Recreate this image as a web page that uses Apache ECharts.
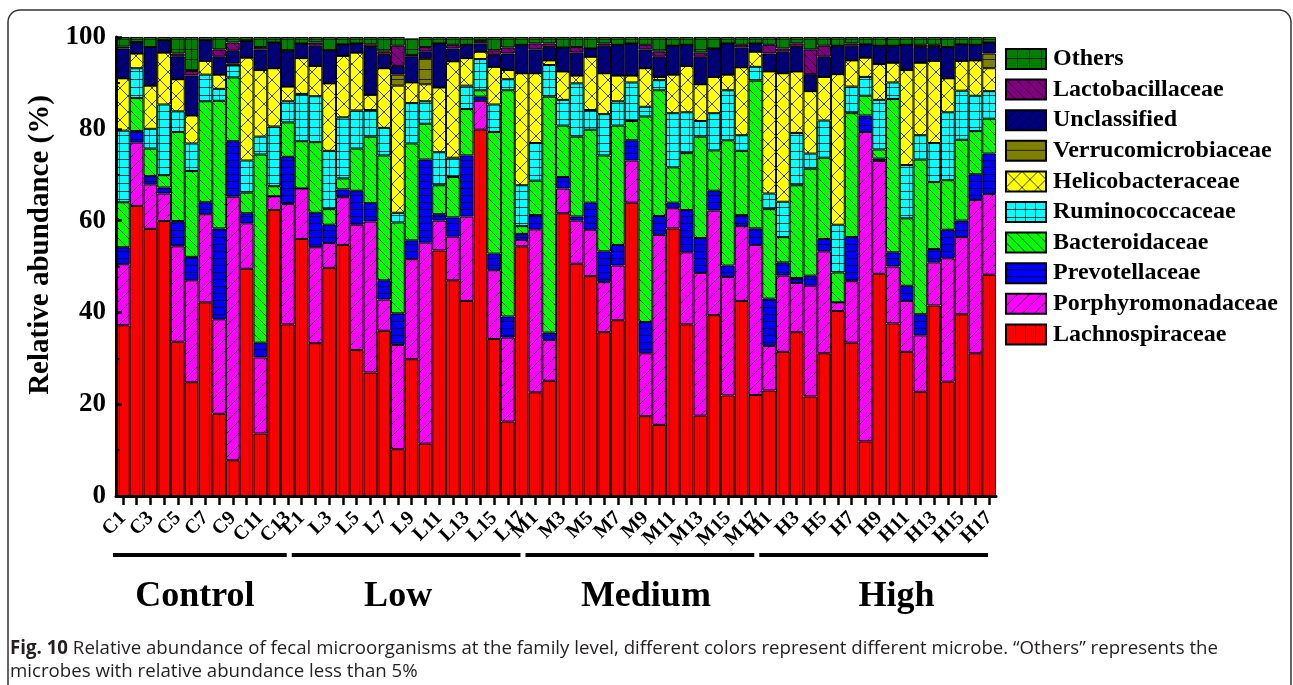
<!DOCTYPE html>
<html>
<head>
<meta charset="utf-8">
<script src="https://cdn.jsdelivr.net/npm/echarts@6/dist/echarts.min.js"></script>
<style>
  html, body { margin: 0; padding: 0; background: #fff; }
  #chart { width: 1293px; height: 685px; }
</style>
</head>
<body>
<div id="chart"></div>
<script>
// Samples: Control (C1-C13), Low (L1-L17), Medium (M1-M17), High (H1-H17)
const samples = [
  'C1','C2','C3','C4','C5','C6','C7','C8','C9','C10','C11','C12','C13',
  'L1','L2','L3','L4','L5','L6','L7','L8','L9','L10','L11','L12','L13','L14','L15','L16','L17',
  'M1','M2','M3','M4','M5','M6','M7','M8','M9','M10','M11','M12','M13','M14','M15','M16','M17',
  'H1','H2','H3','H4','H5','H6','H7','H8','H9','H10','H11','H12','H13','H14','H15','H16','H17'
];

const groupLabels = ['Control', 'Low', 'Medium', 'High'];
const groupFirst = ['C1', 'L1', 'M1', 'H1'];
const groupLast = ['C13', 'L17', 'M17', 'H17'];

// Relative abundance (%) per family, one value per sample
const lachnospiraceae = [
  37.2, 63.2, 58.2, 59.9, 33.6, 24.8, 42.2, 17.9, 7.8, 49.5, 13.6, 62.3, 37.4,
  56.0, 33.3, 49.7, 54.7, 31.8, 26.9, 36.0, 10.2, 29.8, 11.4, 53.5, 47.0, 42.5, 79.8, 34.2, 16.2, 54.4,
  22.6, 25.1, 61.6, 50.6, 47.9, 35.7, 38.3, 63.9, 17.4, 15.5, 58.3, 37.4, 17.5, 39.4, 21.9, 42.5, 22.0,
  23.0, 31.4, 35.7, 21.7, 31.1, 40.3, 33.4, 11.9, 48.4, 37.6, 31.4, 22.7, 41.5, 24.9, 39.6, 31.1, 48.2
];
const porphyromonadaceae = [
  13.3, 13.8, 9.7, 6.0, 20.8, 22.2, 19.2, 20.6, 57.4, 9.9, 16.6, 3.0, 26.2,
  11.0, 20.9, 5.4, 10.4, 27.3, 32.9, 6.8, 22.7, 21.8, 43.8, 6.5, 9.5, 18.4, 6.3, 15.0, 18.3, 1.4,
  35.5, 8.9, 5.4, 9.4, 10.1, 10.9, 11.9, 9.2, 13.7, 41.4, 4.4, 15.7, 31.1, 22.8, 25.8, 16.3, 32.7,
  9.7, 16.6, 10.7, 24.1, 22.2, 1.9, 13.4, 67.4, 24.6, 12.4, 11.1, 12.3, 9.4, 26.9, 16.8, 33.4, 17.6
];
const prevotellaceae = [
  3.7, 2.5, 1.8, 1.3, 5.5, 5.1, 2.6, 19.8, 12.1, 2.2, 3.2, 0, 10.3,
  0, 7.5, 4.0, 1.7, 7.4, 4.0, 4.2, 6.9, 4.1, 18.1, 1.4, 4.2, 13.3, 0.9, 3.6, 4.6, 1.3,
  3.1, 1.6, 2.5, 0.9, 5.9, 6.7, 4.5, 4.4, 6.8, 4.1, 1.2, 9.2, 7.6, 4.3, 2.5, 2.4, 3.6,
  10.3, 2.9, 1.1, 2.2, 2.7, 0, 9.6, 3.6, 0.5, 3.1, 3.3, 4.6, 2.9, 6.2, 3.6, 5.6, 8.8
];
const bacteroidaceae = [
  9.8, 7.2, 6.0, 2.7, 19.4, 18.7, 22.0, 27.8, 13.9, 4.5, 41.0, 2.2, 7.5,
  10.3, 15.4, 3.4, 2.4, 9.2, 14.5, 27.2, 19.8, 21.1, 7.8, 6.3, 8.8, 10.1, 1.4, 26.5, 49.3, 1.7,
  7.5, 51.4, 11.2, 17.4, 15.9, 20.9, 26.0, 4.2, 44.8, 27.4, 7.7, 12.4, 22.1, 8.8, 27.3, 14.0, 32.2,
  19.5, 5.5, 20.2, 23.3, 17.7, 6.5, 27.0, 4.3, 2.0, 33.4, 14.7, 33.7, 14.6, 10.8, 17.6, 9.4, 7.6
];
const ruminococcaceae = [
  15.6, 6.5, 4.3, 15.4, 4.5, 6.0, 5.8, 2.6, 2.6, 7.0, 3.9, 13.0, 4.6,
  10.3, 10.0, 12.7, 13.3, 8.3, 5.8, 6.0, 2.1, 8.8, 4.9, 7.2, 4.2, 5.1, 6.8, 6.0, 2.4, 8.9,
  8.2, 6.9, 5.6, 11.6, 4.3, 9.0, 5.3, 8.4, 2.1, 2.2, 11.8, 8.9, 3.4, 8.1, 10.9, 3.4, 3.0,
  3.4, 7.7, 11.4, 3.3, 8.1, 10.4, 5.8, 4.1, 10.8, 3.6, 11.6, 5.3, 8.5, 14.8, 10.7, 7.7, 6.0
];
const helicobacteraceae = [
  11.4, 3.2, 9.4, 11.3, 7.0, 6.1, 3.0, 3.1, 0, 22.4, 14.5, 12.7, 3.2,
  7.8, 6.6, 14.7, 13.4, 12.6, 3.3, 13.0, 27.7, 4.5, 3.7, 14.1, 21.0, 6.0, 1.6, 8.2, 2.0, 24.4,
  15.2, 1.0, 6.2, 1.7, 11.6, 8.9, 5.6, 1.5, 8.4, 0.7, 8.4, 10.1, 8.0, 7.9, 3.4, 14.8, 3.3,
  26.6, 28.0, 13.4, 13.6, 9.5, 32.8, 5.7, 4.2, 7.8, 4.3, 20.7, 15.8, 17.9, 7.4, 6.5, 7.7, 5.0
];
const verrucomicrobiaceae = [
  0, 0, 0, 0, 0, 0, 0, 0, 0.4, 0, 0, 0, 0,
  0, 0, 0, 0, 0, 0, 0, 2.4, 0, 5.7, 0, 0, 0, 0, 0, 0, 0,
  0, 0, 0, 0, 0, 0, 0, 0, 0, 0, 0, 0, 0, 0, 0, 0, 0,
  0, 0, 0, 0, 0, 0, 0, 0, 0, 0, 0, 0, 0, 0, 0, 0, 3.2
];
const unclassified = [
  6.5, 2.5, 8.4, 2.7, 5.0, 8.7, 4.5, 3.9, 2.8, 3.6, 4.5, 5.6, 7.8,
  3.2, 4.4, 7.2, 2.5, 2.0, 10.4, 2.9, 1.9, 5.7, 1.4, 9.6, 2.8, 2.9, 1.8, 2.6, 3.6, 6.2,
  5.2, 2.9, 5.2, 5.0, 1.8, 6.0, 6.7, 7.0, 4.1, 4.4, 6.3, 4.6, 6.0, 6.2, 6.8, 4.3, 1.8,
  3.9, 4.7, 5.3, 3.7, 4.4, 6.2, 3.2, 2.9, 4.0, 3.7, 5.5, 3.4, 3.0, 6.8, 3.6, 3.4, 2.4
];
const lactobacillaceae = [
  0.4, 0, 0, 0, 0.6, 1.0, 0, 1.6, 1.8, 0, 0.5, 0, 0,
  0, 0.7, 0, 0, 0, 0.6, 0.7, 4.4, 0.3, 1.0, 0, 0.8, 0, 0.5, 1.0, 1.3, 0,
  1.3, 0.8, 0, 1.2, 0, 0.5, 0, 0, 1.0, 1.1, 0, 0, 0.9, 0, 0, 0.6, 0,
  1.9, 0.7, 0.8, 5.4, 2.4, 0, 0.5, 0, 0, 0, 0, 0.5, 0.5, 0, 0, 0, 0
];
const others = [
  2.1, 1.1, 2.2, 0.7, 3.6, 7.4, 0.7, 2.7, 1.2, 0.9, 2.2, 1.2, 3.0,
  1.4, 1.2, 2.9, 1.6, 1.4, 1.6, 3.2, 1.9, 3.6, 2.2, 1.4, 1.7, 1.7, 0.9, 2.9, 2.3, 1.7,
  1.4, 1.4, 2.3, 2.2, 2.5, 1.4, 1.7, 1.4, 1.7, 3.2, 1.9, 1.7, 3.4, 2.5, 1.4, 1.7, 1.4,
  1.7, 2.5, 1.4, 2.7, 1.9, 1.9, 1.4, 1.6, 1.9, 1.9, 1.7, 1.7, 1.7, 2.2, 1.6, 1.7, 1.2
];

// ---- hatch fills -------------------------------------------------------
function hatch(bg, w, h, draw) {
  const c = document.createElement('canvas');
  c.width = w; c.height = h;
  const g = c.getContext('2d');
  g.fillStyle = bg;
  g.fillRect(0, 0, w, h);
  g.strokeStyle = 'rgba(0,0,0,0.75)';
  g.lineWidth = 1;
  g.beginPath();
  draw(g, w, h);
  g.stroke();
  return { image: c, repeat: 'repeat' };
}
const vLines = (g, w, h) => { g.moveTo(w - 0.5, 0); g.lineTo(w - 0.5, h); };
const hLines = (g, w, h) => { g.moveTo(0, h - 0.5); g.lineTo(w, h - 0.5); };
const gridLines = (g, w, h) => { vLines(g, w, h); hLines(g, w, h); };
const slash = (g, w, h) => {
  g.moveTo(0, h); g.lineTo(w, 0);
  g.moveTo(-1, 1); g.lineTo(1, -1);
  g.moveTo(w - 1, h + 1); g.lineTo(w + 1, h - 1);
};
const backslash = (g, w, h) => {
  g.moveTo(0, 0); g.lineTo(w, h);
  g.moveTo(w - 1, -1); g.lineTo(w + 1, 1);
  g.moveTo(-1, h - 1); g.lineTo(1, h + 1);
};
const crossLines = (g, w, h) => { slash(g, w, h); backslash(g, w, h); };

// Stacking order: bottom to top
const families = [
  { name: 'Lachnospiraceae',     data: lachnospiraceae,     fill: hatch('#ff0000', 10, 10, vLines) },
  { name: 'Porphyromonadaceae',  data: porphyromonadaceae,  fill: hatch('#ff00ff', 12, 12, slash) },
  { name: 'Prevotellaceae',      data: prevotellaceae,      fill: hatch('#0000ff', 8, 7, hLines) },
  { name: 'Bacteroidaceae',      data: bacteroidaceae,      fill: hatch('#00ff00', 10, 10, backslash) },
  { name: 'Ruminococcaceae',     data: ruminococcaceae,     fill: hatch('#00ffff', 10, 8, gridLines) },
  { name: 'Helicobacteraceae',   data: helicobacteraceae,   fill: hatch('#ffff00', 16, 16, crossLines) },
  { name: 'Verrucomicrobiaceae', data: verrucomicrobiaceae, fill: hatch('#808000', 8, 10, hLines) },
  { name: 'Unclassified',        data: unclassified,        fill: hatch('#000080', 10, 10, slash) },
  { name: 'Lactobacillaceae',    data: lactobacillaceae,    fill: hatch('#800080', 10, 10, backslash) },
  { name: 'Others',              data: others,              fill: hatch('#008000', 12, 10, gridLines) }
];

const serif = '"Liberation Serif", "Times New Roman", serif';

const chart = echarts.init(document.getElementById('chart'), null, { renderer: 'canvas' });

chart.setOption({
  animation: false,
  backgroundColor: '#fff',
  grid: { left: 116, right: 297, top: 37, bottom: 189, containLabel: false },
  legend: {
    orient: 'vertical',
    left: 1000,
    top: 42,
    itemWidth: 40,
    itemHeight: 20,
    itemGap: 6.6,
    icon: 'rect',
    data: families.map(f => f.name).reverse(),
    textStyle: { fontFamily: serif, fontWeight: 'bold', fontSize: 24, color: '#000', padding: [0, 0, 0, 2] }
  },
  xAxis: {
    type: 'category',
    data: samples,
    z: 5,
    axisLine: { lineStyle: { color: '#000', width: 3 } },
    axisTick: { show: true, inside: false, interval: 0, length: 9, alignWithLabel: true, lineStyle: { color: '#000', width: 2.5 } },
    axisLabel: {
      // every sample keeps a tick; only odd-numbered samples are labelled
      interval: 0,
      formatter: v => (parseInt(v.slice(1), 10) % 2 === 1 ? v : ''),
      rotate: 45,
      margin: 19,
      fontFamily: serif,
      fontWeight: 'bold',
      fontSize: 20,
      color: '#000'
    }
  },
  yAxis: {
    type: 'value',
    min: 0,
    max: 100,
    interval: 20,
    z: 5,
    axisLine: { show: true, lineStyle: { color: '#000', width: 3 } },
    axisTick: { show: true, inside: true, length: 6, lineStyle: { color: '#000', width: 2.5 } },
    minorTick: { show: true, splitNumber: 2, length: 4, lineStyle: { color: '#000', width: 2 } },
    splitLine: { show: false },
    axisLabel: { fontFamily: serif, fontWeight: 'bold', fontSize: 27, color: '#000', margin: 10 }
  },
  series: families.map(f => ({
    name: f.name,
    type: 'bar',
    stack: 'total',
    barCategoryGap: '0%',
    data: f.data,
    itemStyle: { color: f.fill, borderColor: '#000', borderWidth: 1 },
    emphasis: { disabled: true }
  }))
});

// ---- axis title, group brackets, group names, frame and caption ---------
const graphics = [];

graphics.push({
  type: 'text',
  x: 41,
  y: 245,
  rotation: Math.PI / 2,
  style: {
    text: 'Relative abundance (%)',
    font: 'bold 29px ' + serif,
    fill: '#000',
    align: 'center',
    verticalAlign: 'middle'
  }
});

const x0 = chart.convertToPixel({ xAxisIndex: 0 }, samples[0]);
const x1 = chart.convertToPixel({ xAxisIndex: 0 }, samples[1]);
const band = x1 - x0;
const labelShift = [-5, -8, 6, 23];

groupLabels.forEach((label, i) => {
  const a = chart.convertToPixel({ xAxisIndex: 0 }, groupFirst[i]) - band / 2 - 3;
  const b = chart.convertToPixel({ xAxisIndex: 0 }, groupLast[i]) + band / 2 - 8;
  graphics.push({
    type: 'line',
    shape: { x1: a, y1: 555, x2: b, y2: 555 },
    style: { stroke: '#000', lineWidth: 4, lineCap: 'butt' }
  });
  graphics.push({
    type: 'text',
    x: (a + b) / 2 + labelShift[i],
    y: 597,
    style: {
      text: label,
      font: 'bold 36px ' + serif,
      fill: '#000',
      align: 'center',
      verticalAlign: 'middle'
    }
  });
});

graphics.push({
  type: 'rect',
  z: -1,
  shape: { x: 8, y: 10, width: 1283, height: 720, r: 12 },
  style: { fill: 'none', stroke: '#333', lineWidth: 1.5 }
});

const capFont = '"Open Sans", "Noto Sans", sans-serif';
const capBold = 'Fig. 10';
const capLine1 = ' Relative abundance of fecal microorganisms at the family level, different colors represent different microbe. \u201COthers\u201D represents the';
const capLine2 = 'microbes with relative abundance less than 5%';
const meas = document.createElement('canvas').getContext('2d');
meas.font = 'bold 19px ' + capFont;
const wBold = meas.measureText(capBold).width;
meas.font = '19px ' + capFont;
const wRest = meas.measureText(capLine1).width;
const capScale = 1208 / (wBold + wRest);

graphics.push({
  type: 'text',
  x: 10,
  y: 637,
  scaleX: capScale,
  style: {
    text: '{b|' + capBold + '}{r|' + capLine1 + '}\n{r|' + capLine2 + '}',
    rich: {
      b: { font: 'bold 19px ' + capFont, fill: '#231f20', lineHeight: 23 },
      r: { font: '19px ' + capFont, fill: '#231f20', lineHeight: 23 }
    }
  }
});

chart.setOption({ graphic: graphics });
</script>
</body>
</html>
